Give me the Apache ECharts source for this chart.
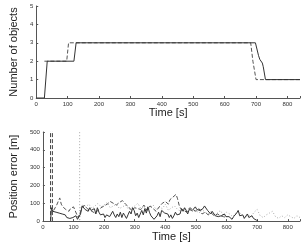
<!DOCTYPE html>
<html><head><meta charset="utf-8">
<script src="https://cdn.jsdelivr.net/npm/echarts@6/dist/echarts.min.js"></script>
<style>html,body{margin:0;padding:0;background:#fff}#c{width:303px;height:243px}</style>
</head><body><div id="c"></div>
<script>
// Top panel: number of objects over time
var countSolidT = [0, 26, 35, 120, 127, 185, 190, 195, 460, 465, 470, 698, 703, 708, 712, 720, 723, 730, 840];
var countSolidV = [0, 0, 2, 2, 3, 3, 3.05, 3, 3, 3.03, 3, 3, 2.9, 2.3, 2.1, 1.9, 1.7, 1.0, 1];
var countDashT = [26, 97, 103, 683, 690, 700, 840];
var countDashV = [2, 2, 3, 3, 2, 1, 1];

// Bottom panel: position error [m]
var errSolidT = [25,28,32,38,43,48,53,58,63,68,73,78,83,88,93,98,103,108,113,118,123,128,133,138,143,148,153,158,163,168,173,178,183,188,193,198,203,208,213,218,223,228,233,238,243,248,253,258,263,268,273,278,283,288,293,298,303,308,313,318,323,328,333,338,343,348,353,358,363,368,373,378,383,388,393,398,403,408,413,418,423,428,433,438,443,448,453,458,463,468,473,478,483,488,493,498,503,508,513,518,523,528,533,538,543,548,553,558,563,568,573,578,583,588,593,598,603,608,613,618,623,628,633,638,643,648,653,658,663,668,673,678,683,688,693,698,703];
var errSolidV = [0,75,55,65,50,60,45,35,40,30,35,20,25,15,10,20,15,30,10,5,40,85,75,65,70,55,75,60,50,70,40,75,50,35,30,40,20,35,45,25,30,55,35,20,40,25,50,20,45,30,15,35,55,40,75,60,30,45,20,40,60,35,70,45,80,50,30,20,10,0,30,50,25,60,70,45,55,40,20,35,15,30,50,35,25,40,70,55,75,60,40,65,75,60,70,80,65,75,60,55,70,85,90,60,50,40,55,45,30,40,25,35,30,20,40,25,15,25,20,10,25,15,45,60,30,20,35,15,25,40,20,10,30,15,10,5,0];
var errDashT = [35,40,45,50,55,60,65,70,75,80,85,90,95,100,105,110,115,120,125,130,135,140,145,150,160,170,180,190,200,210,220,230,240,250,260,270,280,290,300,310,320,330,340,350,360,370,380,390,400,405,410,415,420,425,430,435,440,445,450,460,470,480,490,500,510,520,530,540,550,560,570,580,590,600];
var errDashV = [60,75,90,110,130,95,80,70,65,60,55,70,75,80,60,40,20,40,60,75,90,85,70,60,55,45,60,75,85,95,110,100,90,105,115,95,80,60,75,70,65,90,60,85,70,55,80,100,110,105,95,120,115,135,140,150,125,90,70,60,50,75,65,55,70,40,50,35,45,30,40,30,25,20];
var errDashSpikeT = [25, 25, null, 31, 31];
var errDashSpikeV = [0, 600, null, 0, 600];
var errDotT = [120,120,122,130,140,150,160,170,180,190,200,210,220,230,240,250,260,270,280,290,300,310,320,330,340,350,360,370,380,390,400,410,420,430,440,450,460,470,480,490,500,510,520,530,540,550,560,570,580,590,600,610,620,630,640,650,660,670,680,690,700,710,720,730,740,750,760,770,780,790,800,810,820,830,840];
var errDotV = [600,0,70,90,80,95,70,85,100,80,90,105,75,85,95,70,80,90,65,75,85,100,70,80,60,75,90,65,80,70,95,60,75,85,65,55,70,60,75,50,60,45,65,50,40,55,35,45,60,30,50,40,25,45,55,30,20,35,25,50,65,30,20,35,45,55,25,15,30,20,35,25,15,30,20];

var countSolid = countSolidT.map(function(t,i){return [t,countSolidV[i]];});
var countDash = countDashT.map(function(t,i){return [t,countDashV[i]];});
var errSolid = errSolidT.map(function(t,i){return [t,errSolidV[i]];});
var errDash = errDashT.map(function(t,i){return [t,errDashV[i]];});
var errSpike = errDashSpikeT.map(function(t,i){return t===null?'-':[t,errDashSpikeV[i]];});
var errDot = errDotT.map(function(t,i){return [t,errDotV[i]];});

var FONT = 'Liberation Sans, Arial, sans-serif';
var axisLine = {show:true, lineStyle:{color:'#555', width:1}};
function xAx(idx){
  return {type:'value', gridIndex:idx, min:0, max:840, interval:100,
    axisLine:axisLine, axisTick:{show:true, inside:true, length:2, lineStyle:{color:'#555'}},
    axisLabel:{fontSize:6, color:'#333', margin:3, fontFamily:FONT,
      formatter:function(v){return v<=800?String(v):'';}},
    splitLine:{show:false},
    name:'Time [s]', nameLocation:'middle', nameGap:idx===0?9:8,
    nameTextStyle:{fontSize:11, color:'#222', fontFamily:FONT}};
}
function yAx(idx, max, interval, name){
  return {type:'value', gridIndex:idx, min:0, max:max, interval:interval,
    axisLine:axisLine, axisTick:{show:true, inside:true, length:2, lineStyle:{color:'#555'}},
    axisLabel:{fontSize:6, color:'#333', margin:3, fontFamily:FONT},
    splitLine:{show:false},
    name:name, nameLocation:'middle', nameGap:idx===0?9:15,
    nameTextStyle:{fontSize:11, color:'#222', fontFamily:FONT}};
}
var chart = echarts.init(document.getElementById('c'), null, {renderer:'canvas'});
chart.setOption({
  animation:false,
  backgroundColor:'#fff',
  grid:[
    {left:25, right:2, top:6, height:92},
    {left:25, right:2, top:132, height:91}
  ],
  xAxis:[xAx(0), xAx(1)],
  yAxis:[yAx(0,5,1,'Number of objects'), yAx(1,500,100,'Position error [m]')],
  series:[
    {type:'line', xAxisIndex:0, yAxisIndex:0, data:countDash, symbol:'none',
      lineStyle:{color:'#555', width:1, type:[4,2]}},
    {type:'line', xAxisIndex:0, yAxisIndex:0, data:countSolid, symbol:'none',
      lineStyle:{color:'#333', width:1}},
    {type:'line', xAxisIndex:1, yAxisIndex:1, data:errDot, symbol:'none',
      lineStyle:{color:'#aaa', width:1, type:[1,2]}},
    {type:'line', xAxisIndex:1, yAxisIndex:1, data:errSpike, symbol:'none', connectNulls:false,
      lineStyle:{color:'#444', width:1, type:[4,2]}},
    {type:'line', xAxisIndex:1, yAxisIndex:1, data:errDash, symbol:'none',
      lineStyle:{color:'#555', width:1, type:[4,2]}},
    {type:'line', xAxisIndex:1, yAxisIndex:1, data:errSolid, symbol:'none',
      lineStyle:{color:'#333', width:1}}
  ]
});
</script></body></html>
